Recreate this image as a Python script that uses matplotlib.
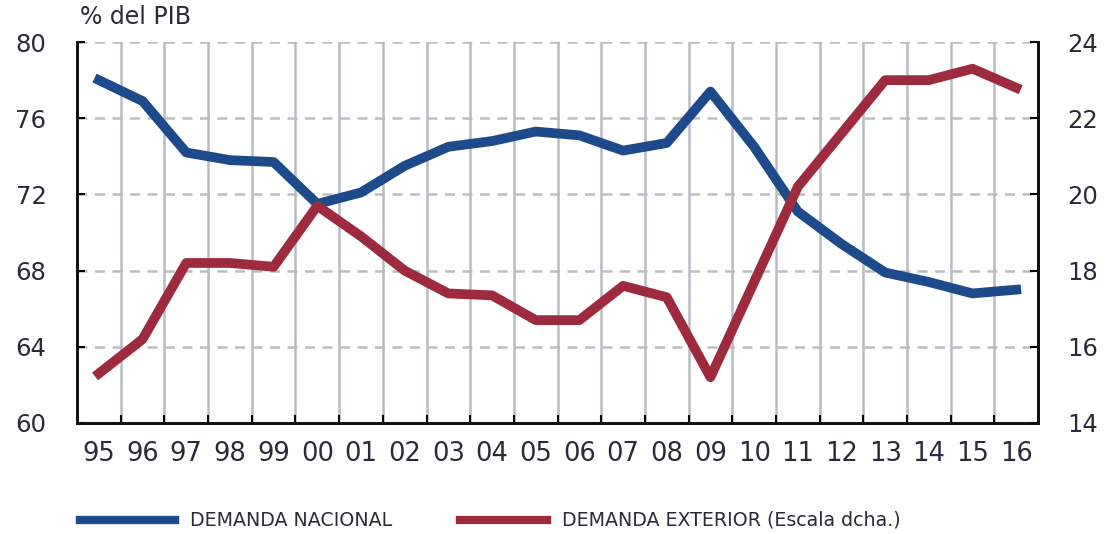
import numpy as np
import matplotlib
matplotlib.use("Agg")
import matplotlib.pyplot as plt
from matplotlib.lines import Line2D

plt.rcParams['font.family'] = ['DejaVu Sans']

years = ['95', '96', '97', '98', '99', '00', '01', '02', '03', '04', '05',
         '06', '07', '08', '09', '10', '11', '12', '13', '14', '15', '16']
nacional = [78.0, 76.9, 74.2, 73.8, 73.7, 71.5, 72.1, 73.5, 74.5, 74.8, 75.3,
            75.1, 74.3, 74.7, 77.4, 74.5, 71.1, 69.4, 67.9, 67.4, 66.8, 67.0]
exterior = [15.3, 16.2, 18.2, 18.2, 18.1, 19.7, 18.9, 18.0, 17.4, 17.35, 16.7,
            16.7, 17.6, 17.3, 15.2, 17.7, 20.2, 21.6, 23.0, 23.0, 23.3, 22.8]
labels = ['DEMANDA NACIONAL', 'DEMANDA EXTERIOR (Escala dcha.)']

blue = '#1d4a8a'
red = '#9e2a3e'
txt = '#2a2a3a'

fig = plt.figure(figsize=(11.1, 5.34), dpi=100)
ax = fig.add_axes([0.0694, 0.2079, 0.8658, 0.7134])
ax2 = ax.twinx()

x = np.arange(len(years))
ax.set_xlim(-0.5, len(years) - 0.5)
ax.set_ylim(60, 80)
ax2.set_ylim(14, 24)

# grid: dashed horizontal lines, solid grey vertical lines between years
for v in [64, 68, 72, 76, 80]:
    ax.axhline(v, color='#bdbdbd', lw=1.8, ls=(0, (4, 3)), zorder=0)
for b in x[:-1] + 0.5:
    ax.axvline(b, color='#b8bcc1', lw=1.8, zorder=0)

ax.plot(x, nacional, color=blue, lw=7, zorder=3)
ax2.plot(x, exterior, color=red, lw=7, zorder=3)

ax.set_yticks([60, 64, 68, 72, 76, 80])
ax2.set_yticks([14, 16, 18, 20, 22, 24])
ax.set_xticks(x)
ax.set_xticklabels(years)
ax.set_xticks(x[:-1] + 0.5, minor=True)

ax.tick_params(axis='y', direction='in', length=6, width=1.5, labelsize=17.5,
               labelcolor=txt, pad=22)
ax2.tick_params(axis='y', direction='in', length=6, width=1.5, labelsize=17.5,
                labelcolor=txt, pad=21)
ax.tick_params(axis='x', which='major', length=0, labelsize=18.5,
               labelcolor=txt, pad=13)
ax.tick_params(axis='x', which='minor', direction='in', length=6, width=1.5)

for a in (ax, ax2):
    a.spines['top'].set_visible(False)
    for s in ['left', 'right', 'bottom']:
        a.spines[s].set_linewidth(2)
        a.spines[s].set_color('#111111')

fig.text(80 / 1110, 1 - 17 / 534, '% del PIB', fontsize=17, color=txt,
         ha='left', va='center')

# legend drawn by hand to match the reference spacing
ly = 1 - 520 / 534
for (x0, x1, tx), col, lab in zip([(80, 175, 190), (460, 547, 562)],
                                  [blue, red], labels):
    fig.add_artist(Line2D([x0 / 1110, x1 / 1110], [ly, ly], color=col, lw=6,
                          transform=fig.transFigure))
    fig.text(tx / 1110, ly, lab, fontsize=13.7, color=txt, ha='left', va='center')

fig.savefig('out.png', dpi=100)
